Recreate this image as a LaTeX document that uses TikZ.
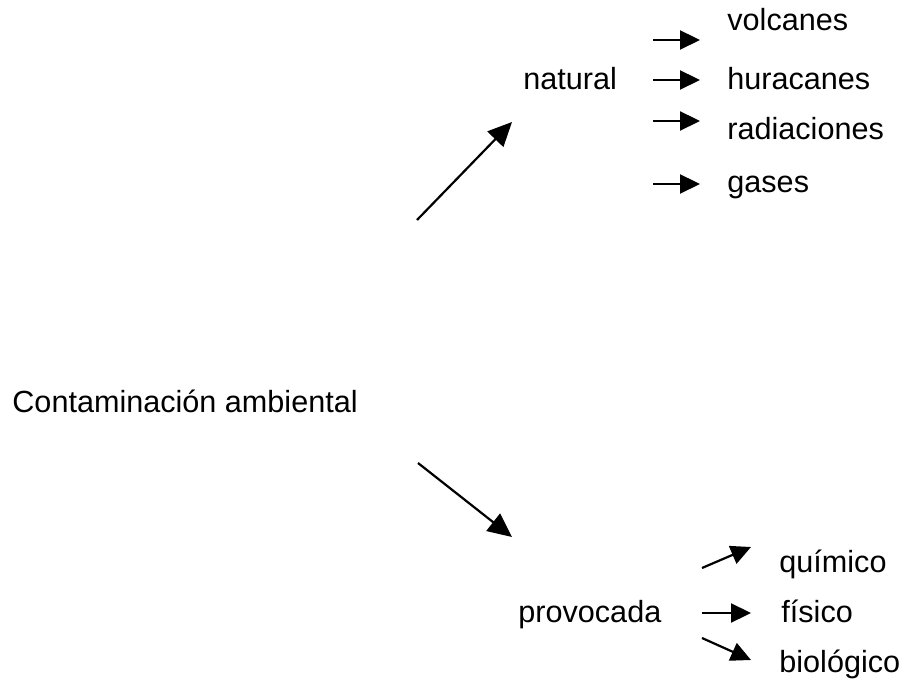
\documentclass[tikz,border=0pt]{standalone}
\usepackage{fontspec}
\setmainfont{Liberation Sans}
\usetikzlibrary{arrows.meta}
\tikzset{
  txt/.style={anchor=base west,inner sep=0pt,font=\fontsize{15.3}{18}\selectfont},
  flecha/.style={line width=1.1pt,-{Triangle[length=10pt,width=9.5pt]}},
  flechagr/.style={line width=1.1pt,-{Triangle[length=12pt,width=11pt]}}
}
\begin{document}
\begin{tikzpicture}[x=0.5pt,y=-0.5pt]
      \useasboundingbox (0,0) rectangle (908,683);
      \node[txt] (cont) at (12,412) {Contaminación ambiental};
      \node[txt] (natural) at (523,90) {natural};
      \node[txt] (volcanes) at (727,31) {volcanes};
      \node[txt] (huracanes) at (727,90) {huracanes};
      \node[txt] (radiaciones) at (727,140) {radiaciones};
      \node[txt] (gases) at (727,193) {gases};
      \node[txt] (provocada) at (518,622) {provocada};
      \node[txt] (quimico) at (779,572) {químico};
      \node[txt] (fisico) at (781,622) {físico};
      \node[txt] (biologico) at (779,672) {biológico};
      \draw[flechagr] ([shift={(405,-192)}]cont.base west) -- ([shift={(-11,32)}]natural.base west);
      \draw[flechagr] ([shift={(406,51)}]cont.base west) -- ([shift={(-6,-85)}]provocada.base west);
      \draw[flecha] ([shift={(130,-50)}]natural.base west) -- ([shift={(-27,9)}]volcanes.base west);
      \draw[flecha] ([shift={(130,-10)}]natural.base west) -- ([shift={(-27,-10)}]huracanes.base west);
      \draw[flecha] ([shift={(130,31)}]natural.base west) -- ([shift={(-27,-19)}]radiaciones.base west);
      \draw[flecha] ([shift={(130,94)}]natural.base west) -- ([shift={(-27,-9)}]gases.base west);
      \draw[flecha] ([shift={(184,-54)}]provocada.base west) -- ([shift={(-28,-25)}]quimico.base west);
      \draw[flecha] ([shift={(184,-9)}]provocada.base west) -- ([shift={(-30,-9)}]fisico.base west);
      \draw[flecha] ([shift={(184,16)}]provocada.base west) -- ([shift={(-28,-12)}]biologico.base west);
\end{tikzpicture}
\end{document}
